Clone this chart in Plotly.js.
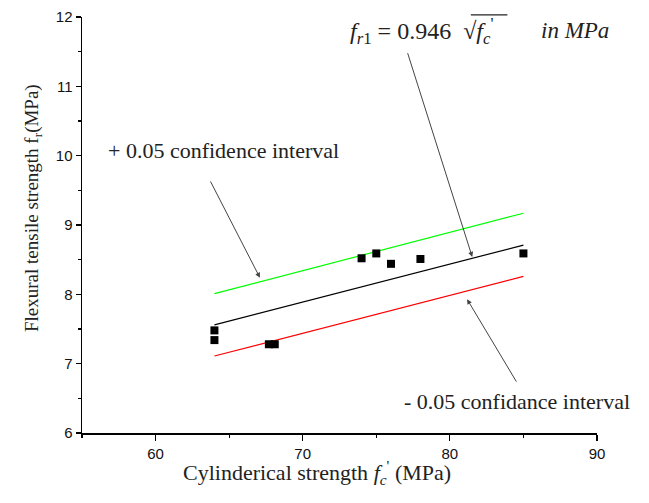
<!DOCTYPE html>
<html>
<head>
<meta charset="utf-8">
<script src="https://cdn.plot.ly/plotly-3.0.1.min.js"></script>
<style>html,body{margin:0;padding:0;background:#fff;}#chart{width:649px;height:503px;}</style>
</head>
<body>
<div id="chart"></div>
<script>
// Measured data (cylinder strength fc', MPa vs flexural tensile strength fr, MPa)
const measuredX = [64, 64, 67.7, 68.1, 74, 75, 76, 78, 85];
const measuredY = [7.48, 7.34, 7.28, 7.28, 8.52, 8.59, 8.44, 8.51, 8.59];

// Fitted line fr1 = 0.946 sqrt(fc') and confidence bounds
const fitX = [64, 85];
const fitY = [7.56, 8.71];
const upperX = [64, 85];
const upperY = [8.01, 9.17];
const lowerX = [64, 85];
const lowerY = [7.11, 8.26];

const xTicks = [60, 70, 80, 90];
const yTicks = [6, 7, 8, 9, 10, 11, 12];

const serif = 'Liberation Serif, Times New Roman, serif';
const sans = 'Liberation Sans, Arial, sans-serif';

const traces = [
  {x: upperX, y: upperY, mode: 'lines', line: {color: '#00ff00', width: 1.2}, hoverinfo: 'skip'},
  {x: fitX, y: fitY, mode: 'lines', line: {color: '#000000', width: 1.2}, hoverinfo: 'skip'},
  {x: lowerX, y: lowerY, mode: 'lines', line: {color: '#ff0000', width: 1.2}, hoverinfo: 'skip'},
  {x: measuredX, y: measuredY, mode: 'markers', marker: {symbol: 'square', size: 8, color: '#000000'}}
];

const arrowStyle = {showarrow: true, arrowhead: 2, arrowsize: 1, arrowwidth: 1, arrowcolor: '#444', axref: 'x', ayref: 'y', text: ''};

const layout = {
  width: 649, height: 503,
  margin: {l: 82, r: 52, t: 17, b: 70},
  showlegend: false,
  paper_bgcolor: '#ffffff', plot_bgcolor: '#ffffff',
  xaxis: {
    range: [55, 90], tickvals: xTicks, ticktext: xTicks.map(String),
    showgrid: false, zeroline: false, showline: true, linecolor: '#000', linewidth: 1.5,
    ticks: 'outside', ticklen: 6, tickwidth: 1.2, tickcolor: '#000',
    minor: {dtick: 5, ticks: 'outside', ticklen: 3, tickcolor: '#000', showgrid: false},
    tickfont: {family: sans, size: 15, color: '#111'}
  },
  yaxis: {
    range: [6, 12], tickvals: yTicks, ticktext: yTicks.map(String),
    showgrid: false, zeroline: false, showline: true, linecolor: '#000', linewidth: 1.5,
    ticks: 'outside', ticklen: 5, tickwidth: 1.2, tickcolor: '#000',
    minor: {dtick: 0.5, ticks: 'outside', ticklen: 3, tickcolor: '#000', showgrid: false},
    tickfont: {family: sans, size: 15, color: '#111'}
  },
  shapes: [
    {type: 'line', xref: 'paper', yref: 'paper', x0: 0.755, x1: 0.826, y0: 1.005, y1: 1.005,
     line: {color: '#222', width: 1.2}}
  ],
  annotations: [
    {xref: 'paper', yref: 'paper', x: -0.095, y: 0.541, xanchor: 'center', yanchor: 'middle', textangle: -90,
     text: 'Flexural tensile strength f<sub>r</sub>(MPa)', showarrow: false,
     font: {family: serif, size: 19, color: '#222'}},
    {xref: 'paper', yref: 'paper', x: 0.456, y: -0.094, xanchor: 'center', yanchor: 'middle',
     text: 'Cylinderical strength <i>f<sub>c</sub></i><sup>\'</sup> (MPa)', showarrow: false,
     font: {family: serif, size: 22, color: '#222'}},
    {x: 56.66, y: 10.08, xanchor: 'left', yanchor: 'middle',
     text: '+ 0.05 confidence interval', showarrow: false,
     font: {family: serif, size: 22, color: '#222'}},
    Object.assign({x: 67.09, y: 8.24, ax: 63.68, ay: 9.65}, arrowStyle),
    {x: 76.75, y: 6.45, xanchor: 'left', yanchor: 'middle',
     text: '- 0.05 confidance interval', showarrow: false,
     font: {family: serif, size: 22, color: '#222'}},
    Object.assign({x: 81.17, y: 7.93, ax: 84.58, ay: 6.72}, arrowStyle),
    {x: 73.09, y: 11.8, xanchor: 'left', yanchor: 'middle',
     text: '<i>f</i><sub><i>r</i>1</sub> = 0.946  √<i>f</i><sub><i>c</i></sub><sup>\'</sup>', showarrow: false,
     font: {family: serif, size: 24, color: '#222'}},
    {x: 86.04, y: 11.8, xanchor: 'left', yanchor: 'middle',
     text: '<i>in MPa</i>', showarrow: false,
     font: {family: serif, size: 23, color: '#222'}},
    Object.assign({x: 81.52, y: 8.54, ax: 77.1, ay: 11.5}, arrowStyle)
  ]
};

Plotly.newPlot('chart', traces, layout, {displayModeBar: false, staticPlot: true});
</script>
</body>
</html>
